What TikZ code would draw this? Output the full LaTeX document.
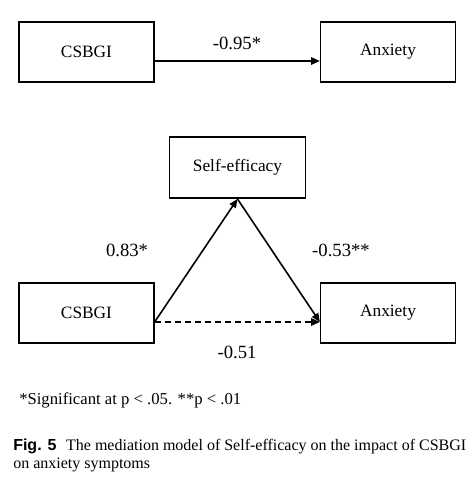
\documentclass[tikz,border=0pt]{standalone}
\usepackage{fontspec}
\setmainfont{Liberation Serif}
\newfontfamily\capsans{Liberation Sans}
\usetikzlibrary{arrows.meta}
\tikzset{
  varbox/.style={draw, line width=1.2pt, minimum width=101pt, minimum height=45pt, font=\fontsize{13}{15}\selectfont},
  path/.style={line width=1.2pt, -{Triangle[length=6.5pt,width=5.5pt]}},
  coef/.style={font=\fontsize{14}{16}\selectfont}
}
\begin{document}
\begin{tikzpicture}[x=0.75pt,y=-0.75pt]
\useasboundingbox (0,0) rectangle (470,479);
% total effect
\node[varbox] (c1) at (86.5,52) {CSBGI};
\node[varbox] (a1) at (388,52) {Anxiety};
\draw[path] ([yshift=-6.75pt]c1.east) -- ([yshift=-6.75pt]a1.west);
\node[coef] (t) at (237,43) {-0.95*};
% mediation
\node[varbox, minimum width=102pt, minimum height=46pt] (s) at (237.5,167.5) {Self-efficacy};
\node[varbox] (c2) at (86.5,313) {CSBGI};
\node[varbox] (a2) at (388,313) {Anxiety};
\draw[path] ([yshift=-6.75pt]c2.east) -- (s.south);
\draw[path] (s.south) -- ([yshift=-6.75pt]a2.west);
\draw[path, dash pattern=on 5pt off 2.5pt] ([yshift=-6.75pt]c2.east) -- ([yshift=-6.75pt]a2.west);
\node[coef] (p1) at (127,250) {0.83*};
\node[coef] (p2) at (341,250) {-0.53**};
\node[coef] (p3) at (237,352) {-0.51};
% notes
\node[anchor=west, inner sep=0pt, font=\fontsize{12.5}{14}\selectfont] (n) at (19,400) {*Significant at p < .05. **p < .01};
\node[anchor=north west, inner sep=0pt, align=left, font=\fontsize{12}{13.5}\selectfont] (cap) at (13,439)
  {{\capsans\bfseries Fig. 5}\hspace{0.6em}The mediation model of Self-efficacy on the impact of CSBGI\\on anxiety symptoms};
\end{tikzpicture}
\end{document}
